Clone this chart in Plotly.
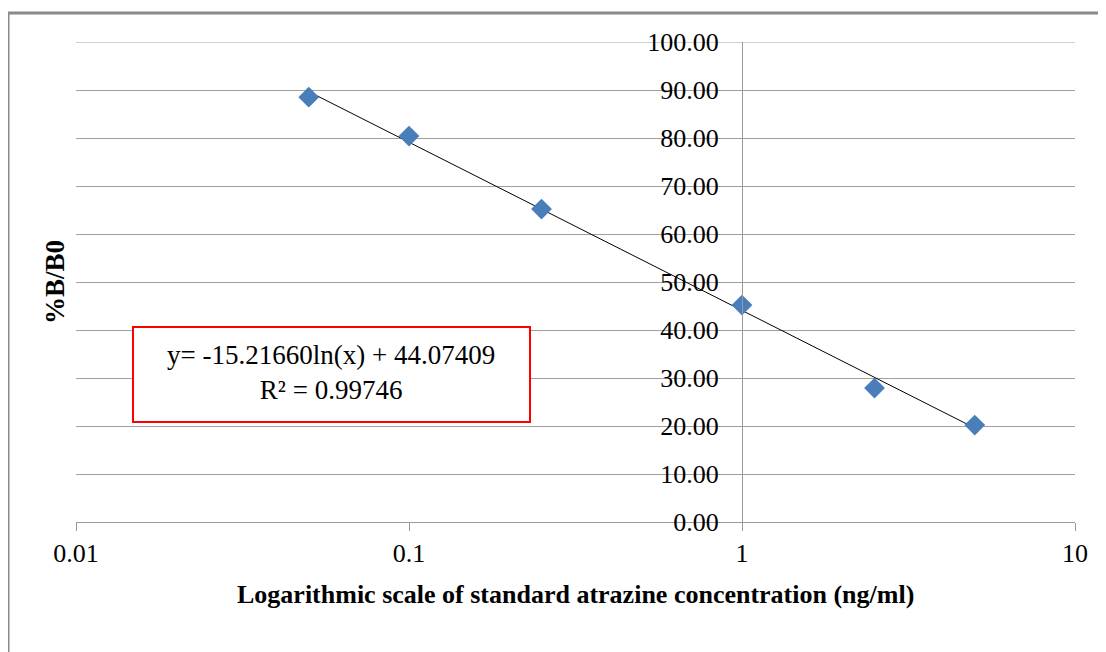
import numpy as np
import plotly.graph_objects as go

# Data
conc = [0.05, 0.1, 0.25, 1, 2.5, 5]          # ng/ml
pct_b_b0 = [88.5, 80.4, 65.2, 45.2, 27.9, 20.2]

# Logarithmic trendline parameters shown on the chart
slope = -15.21660
intercept = 44.07409
r_squared = 0.99746
trend_x = [0.05, 5]

x_tickvals = [0.01, 0.1, 1, 10]
x_ticktext = ["0.01", "0.1", "1", "10"]
y_tickvals = [0, 10, 20, 30, 40, 50, 60, 70, 80, 90, 100]

trend_y = [slope * np.log(v) + intercept for v in trend_x]

FONT = "Liberation Serif"
W, H = 1106, 652
OFF = 8  # page body margin
# plot area in screen pixels
SX0, SX1, SY0, SY1 = 76, 1075, 42, 522
PW, PH = SX1 - SX0, SY1 - SY0
L, T = SX0 - OFF, SY0 - OFF
R = W - L - PW
B = H - T - PH


def px(xs):
    return (xs - SX0) / PW


def py(ys):
    return (SY1 - ys) / PH


fig = go.Figure()
fig.add_trace(go.Scatter(
    x=trend_x, y=trend_y, mode="lines",
    line=dict(color="black", width=1), hoverinfo="skip", showlegend=False))
fig.add_trace(go.Scatter(
    x=conc, y=pct_b_b0, mode="markers",
    marker=dict(symbol="diamond", size=16, color="#4A7EBB"),
    showlegend=False))

fig.update_layout(
    width=W, height=H,
    margin=dict(l=L, r=R, t=T, b=B),
    paper_bgcolor="white", plot_bgcolor="white",
    font=dict(family=FONT, size=26, color="black"),
    xaxis=dict(
        type="log", range=[-2, 1],
        tickvals=x_tickvals, ticktext=x_ticktext,
        ticks="outside", ticklen=8, tickcolor="#9a9a9a", tickwidth=1,
        showline=True, linecolor="#9a9a9a", linewidth=1,
        showgrid=False, zeroline=False,
        tickfont=dict(family=FONT, size=26),
        ticklabelstandoff=0,
    ),
    yaxis=dict(
        range=[0, 100], tickvals=y_tickvals, tickformat=".2f",
        anchor="free", position=2 / 3,
        showline=True, linecolor="#9a9a9a", linewidth=1,
        showgrid=True, gridcolor="#a0a0a0", gridwidth=1,
        zeroline=False, ticks="",
        tickfont=dict(family=FONT, size=26),
        ticklabelstandoff=18,
    ),
    shapes=[
        dict(type="line", xref="paper", yref="y",
             x0=0, x1=1, y0=y_tickvals[-1], y1=y_tickvals[-1],
             line=dict(color="#a0a0a0", width=1), layer="below"),
        dict(type="path", xref="paper", yref="paper",
             path=f"M {px(8)},{py(700)} L {px(8)},{py(13)} L {px(1120)},{py(13)}",
             line=dict(color="#8a8a8a", width=3)),
        dict(type="rect", xref="paper", yref="paper",
             x0=px(133), x1=px(530), y0=py(422), y1=py(327),
             line=dict(color="#FF0000", width=2), fillcolor="white", layer="above"),
    ],
    annotations=[
        dict(xref="paper", yref="paper", x=px(331), y=py(372),
             text=f"y= {slope:.5f}ln(x) + {intercept:.5f}<br>R² = {r_squared:.5f}",
             showarrow=False, font=dict(family=FONT, size=27, color="black"),
             align="center", xanchor="center", yanchor="middle"),
        dict(xref="paper", yref="paper", x=px(575), y=py(594),
             text="<b>Logarithmic scale of standard atrazine concentration (ng/ml)</b>",
             showarrow=False, font=dict(family=FONT, size=26, color="black"),
             xanchor="center", yanchor="middle"),
        dict(xref="paper", yref="paper", x=px(55), y=py(282),
             text="<b>%B/B0</b>", textangle=-90,
             showarrow=False, font=dict(family=FONT, size=27, color="black"),
             xanchor="center", yanchor="middle"),
    ],
)

fig.write_html("out.html")
